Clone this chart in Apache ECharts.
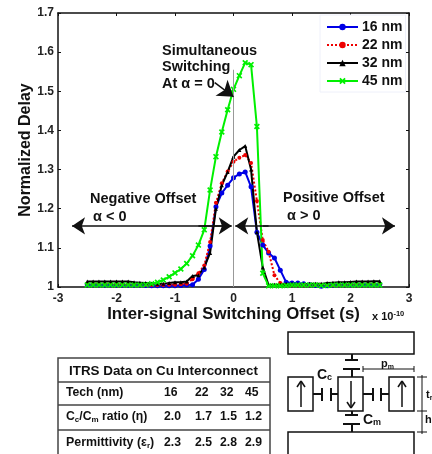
<!DOCTYPE html>
<html><head><meta charset="utf-8">
<style>html,body{margin:0;padding:0;background:#fff}#c{width:432px;height:454px}</style>
<script src="https://cdn.jsdelivr.net/npm/echarts@6/dist/echarts.min.js"></script>
</head><body><div id="c"></div>
<script>
var offsets=[-2.5,-2.4,-2.3,-2.2,-2.1,-2.0,-1.9,-1.8,-1.7,-1.6,-1.5,-1.4,-1.3,-1.2,-1.1,-1.0,-0.9,-0.8,-0.7,-0.6,-0.5,-0.4,-0.3,-0.2,-0.1,0,0.1,0.2,0.3,0.4,0.5,0.6,0.7,0.8,0.9,1.0,1.1,1.2,1.3,1.4,1.5,1.6,1.7,1.8,1.9,2.0,2.1,2.2,2.3,2.4,2.5];
var nm16=[1.006,1.006,1.006,1.005,1.006,1.005,1.005,1.005,1.005,1.005,1.004,1.003,1.003,1.003,1.003,1.003,1.004,1.005,1.006,1.02,1.045,1.105,1.205,1.24,1.26,1.279,1.289,1.294,1.256,1.14,1.107,1.087,1.074,1.043,1.012,1.01,1.01,1.008,1.006,1.004,1.002,1.003,1.005,1.006,1.006,1.006,1.007,1.007,1.007,1.007,1.007];
var nm22=[1.008,1.008,1.008,1.008,1.008,1.007,1.007,1.007,1.007,1.006,1.006,1.005,1.005,1.005,1.006,1.006,1.007,1.008,1.02,1.035,1.055,1.115,1.215,1.265,1.295,1.32,1.33,1.337,1.317,1.22,1.12,1.09,1.03,1.01,1.005,1.006,1.006,1.006,1.006,1.005,1.005,1.005,1.005,1.006,1.006,1.007,1.007,1.008,1.008,1.008,1.008];
var nm32=[1.014,1.014,1.014,1.014,1.014,1.014,1.014,1.014,1.012,1.011,1.01,1.009,1.008,1.008,1.01,1.012,1.012,1.014,1.028,1.03,1.05,1.087,1.2,1.26,1.294,1.333,1.35,1.36,1.3,1.14,1.05,1.005,1.006,1.006,1.008,1.008,1.007,1.007,1.008,1.008,1.008,1.01,1.011,1.012,1.012,1.013,1.014,1.014,1.014,1.015,1.015];
var nm45=[1.005,1.005,1.005,1.005,1.005,1.005,1.005,1.005,1.005,1.005,1.006,1.008,1.012,1.018,1.026,1.036,1.046,1.06,1.08,1.107,1.146,1.248,1.333,1.396,1.453,1.505,1.54,1.573,1.568,1.41,1.035,1.003,1.003,1.003,1.004,1.005,1.005,1.005,1.005,1.005,1.004,1.004,1.005,1.005,1.005,1.005,1.005,1.005,1.005,1.005,1.005];
var seriesNames=['16 nm','22 nm','32 nm','45 nm'];
var xTicks=[-3,-2,-1,0,1,2,3];
var yTicks=['1','1.1','1.2','1.3','1.4','1.5','1.6','1.7'];
var tableTitle='ITRS Data on Cu Interconnect';
var techRow=['16','22','32','45'];
var ratioRow=['2.0','1.7','1.5','1.2'];
var permRow=['2.3','2.5','2.8','2.9'];

var FF='"Liberation Sans",Arial,sans-serif';
function zip(a){return offsets.map(function(x,i){return [x,a[i]];});}
var g=[];
function txt(x,y,t,size,extra){
  var st={x:x,y:y,text:t,fontFamily:FF,fontWeight:'bold',fontSize:size,fill:'#111',verticalAlign:'middle'};
  if(extra)for(var k in extra)st[k]=extra[k];
  g.push({type:'text',silent:true,z:50,style:st});
}
function ln(x1,y1,x2,y2,w,c){g.push({type:'line',silent:true,z:40,shape:{x1:x1,y1:y1,x2:x2,y2:y2},style:{stroke:c||'#111',lineWidth:w||1.5}});}
function box(x,y,w,h,lw,c){g.push({type:'rect',silent:true,z:40,shape:{x:x,y:y,width:w,height:h},style:{fill:'#fff',stroke:c||'#111',lineWidth:lw||1.5}});}
var subTxt=function(x,y,s,size){
  g.push({type:'text',silent:true,z:50,style:{x:x,y:y,text:s,fontFamily:FF,fontWeight:'bold',fontSize:size,fill:'#111',verticalAlign:'middle',rich:{b:{fontFamily:FF,fontWeight:'bold',fontSize:size,fill:'#111'},sub:{fontSize:Math.round(size*0.65),fontFamily:FF,fontWeight:'bold',fill:'#111',padding:[6,0,0,0]}}}});
};

// annotations
txt(162,51,'Simultaneous',14.5);
txt(162,67,'Switching',14.5);
txt(162,84,'At α = 0',14.5);
txt(90,199,'Negative Offset',14.5);
txt(93,217,'α < 0',14.5);
txt(283,198,'Positive Offset',14.5);
txt(287,216,'α > 0',14.5);
// exponent
g.push({type:'text',silent:true,z:50,style:{x:372,y:317,text:'x 10{e|-10}',fontFamily:FF,fontWeight:'bold',fontSize:11,fill:'#111',verticalAlign:'middle',rich:{e:{fontFamily:FF,fontWeight:'bold',fontSize:7.5,fill:'#111',padding:[0,0,6,0]}}}});

// table
box(58,358,212,110,1.5,'#444');
ln(58,382,270,382,1.5,'#444');ln(58,405,270,405,1.5,'#444');ln(58,430,270,430,1.5,'#444');
txt(69,371,tableTitle,13.4);
var cols=[164,195,220,245];
txt(66,393,'Tech (nm)',12.2);
subTxt(66,417,'C{sub|c}/C{sub|m} ratio (η)',12.2);
subTxt(66,443,'Permittivity (ε{sub|r})',12.4);
cols.forEach(function(x,i){txt(x,393,techRow[i],12.2);txt(x,417,ratioRow[i],12.2);txt(x,443,permRow[i],12.2);});

// interconnect sketch
box(288,332,126,22);box(288,432,126,30);
box(288,377,25,34);box(338,377,25,34);box(389,377,25,34);
function arrow(x,y1,y2){ln(x,y1,x,y2,1.5);var d=y2>y1?1:-1;ln(x-4,y2-d*6,x,y2,1.5);ln(x+4,y2-d*6,x,y2,1.5);}
arrow(301,407,381);arrow(351,381,408);arrow(402,407,381);
ln(352,354,352,360,2);ln(345,360,358,360,2);ln(343,369,360,369,2);ln(352,369,352,377,2);
ln(352,411,352,415,2);ln(345,415,358,415,2);ln(343,424,360,424,2);ln(352,424,352,432,2);
ln(313,394,322,394,2);ln(322,388,322,401,2);ln(331,388,331,401,2);ln(331,394,338,394,2);
ln(363,394,373,394,2);ln(373,388,373,401,2);ln(381,388,381,401,2);ln(381,394,389,394,2);
subTxt(317,375,'C{sub|c}',14);
subTxt(363,420,'C{sub|m}',14);
subTxt(381,364,'p{sub|m}',11);
ln(363,369,414,369,1);ln(363,366,363,372,1);ln(414,366,414,372,1);
ln(422,375,422,434,1);ln(417,377,427,377,1);ln(417,411,427,411,1);ln(417,432,427,432,1);
subTxt(426,395,'t{sub|r}',11);
subTxt(425,420,'h{sub|l}',11);

var axisLbl={fontFamily:FF,fontWeight:'bold',fontSize:12,color:'#222'};
var lineAxis={show:true,onZero:false,lineStyle:{color:'#111',width:1.5}};
var mlArrow=function(a,b,size){return [{coord:a,symbol:'none'},{coord:b,symbol:'arrow',symbolSize:size}];};

function mk(name,color,data,symbol,size,extra){
  var s={name:name,type:'line',xAxisIndex:0,yAxisIndex:0,data:zip(data),symbol:symbol,symbolSize:size,showSymbol:true,
    lineStyle:{color:color,width:2},itemStyle:{color:color},animation:false,clip:false,emphasis:{disabled:true}};
  if(extra)s.lineStyle.type=extra;
  return s;
}
var chart=echarts.init(document.getElementById('c'),null,{renderer:'canvas'});
var green=mk(seriesNames[3],'#00f000',nm45,'path://M2,0L5,3L8,0L10,2L7,5L10,8L8,10L5,7L2,10L0,8L3,5L0,2Z',6);
chart.setOption({
  animation:false,
  backgroundColor:'#fff',
  grid:{left:58,top:13,width:351,height:274,containLabel:false},
  legend:{data:seriesNames,orient:'vertical',left:320,top:15,itemWidth:31,itemHeight:8,itemGap:4,padding:[5,3,4,6],
    backgroundColor:'#fff',borderColor:'#eef0fa',borderWidth:1,
    textStyle:{fontFamily:FF,fontWeight:'bold',fontSize:14,color:'#111',padding:[0,0,0,-1]},selectedMode:false,z:20},
  xAxis:[
    {type:'value',min:-3,max:3,interval:1,position:'bottom',axisLine:lineAxis,axisTick:{show:true,inside:true,length:3,lineStyle:{color:'#111'}},splitLine:{show:false},
     axisLabel:Object.assign({margin:6,formatter:function(v){return String(xTicks[xTicks.indexOf(v)]);}},axisLbl),
     name:'Inter-signal Switching Offset (s)',nameLocation:'middle',nameGap:19,nameMoveOverlap:false,nameTextStyle:{fontFamily:FF,fontWeight:'bold',fontSize:16.8,color:'#111'}},
    {type:'value',min:-3,max:3,interval:1,position:'top',axisLine:lineAxis,axisTick:{show:true,inside:true,length:3,lineStyle:{color:'#111'}},axisLabel:{show:false},splitLine:{show:false}}
  ],
  yAxis:[
    {type:'value',min:1,max:1.7,interval:0.1,position:'left',axisLine:lineAxis,axisTick:{show:true,inside:true,length:3,lineStyle:{color:'#111'}},splitLine:{show:false},
     axisLabel:Object.assign({margin:4,formatter:function(v){return yTicks[Math.round((v-1)*10)];}},axisLbl),
     name:'Normalized Delay',nameLocation:'middle',nameGap:24,nameMoveOverlap:false,nameTextStyle:{fontFamily:FF,fontWeight:'bold',fontSize:16,color:'#111'}},
    {type:'value',min:1,max:1.7,interval:0.1,position:'right',axisLine:lineAxis,axisTick:{show:true,inside:true,length:3,lineStyle:{color:'#111'}},axisLabel:{show:false},splitLine:{show:false}}
  ],
  series:[
    mk(seriesNames[0],'#0000e6',nm16,'circle',5),
    mk(seriesNames[1],'#ee0000',nm22,'circle',4,'dotted'),
    mk(seriesNames[2],'#000000',nm32,'triangle',4),
    green,
    {type:'line',data:[[0,1]],symbol:'none',lineStyle:{width:0},silent:true,z:1,
     markLine:{silent:true,animation:false,symbol:'none',label:{show:false},emphasis:{disabled:true},
       lineStyle:{color:'#999',width:1,type:'solid'},
       data:[[{coord:[0,1]},{coord:[0,1.555]}]]}},
    {type:'line',data:[[0,1]],symbol:'none',lineStyle:{width:0},silent:true,z:10,
     markLine:{silent:true,animation:false,label:{show:false},emphasis:{disabled:true},
       lineStyle:{color:'#111',width:1.5,type:'solid'},
       data:[
         mlArrow([-0.05,1.156],[-2.76,1.156],13),
         mlArrow([-0.6,1.156],[-0.03,1.156],13),
         mlArrow([0.6,1.156],[0.03,1.156],13),
         mlArrow([0.5,1.156],[2.76,1.156],13),
         mlArrow([-0.32,1.522],[0,1.486],15)
       ]}}
  ],
  graphic:{elements:g}
});
</script></body></html>
